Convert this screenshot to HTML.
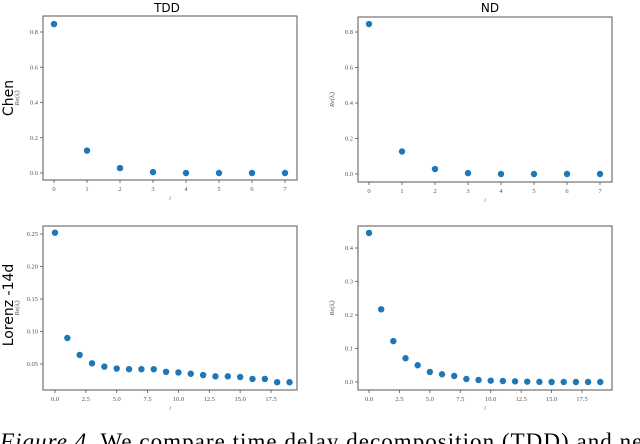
<!DOCTYPE html>
<html><head><meta charset="utf-8"><style>
body{margin:0;background:#fff;width:640px;height:444px;overflow:hidden}
svg{display:block}
</style></head><body>
<svg id="fig" width="640" height="444" xmlns="http://www.w3.org/2000/svg">
<text x="167" y="12" text-anchor="middle" font-family="DejaVu Sans, sans-serif" font-size="12">TDD</text>
<text x="490" y="12" text-anchor="middle" font-family="DejaVu Sans, sans-serif" font-size="12">ND</text>
<text transform="translate(13,98) rotate(-90)" text-anchor="middle" font-family="DejaVu Sans, sans-serif" font-size="14">Chen</text>
<text transform="translate(13,305) rotate(-90)" text-anchor="middle" font-family="DejaVu Sans, sans-serif" font-size="14">Lorenz -14d</text>
<text x="0" y="449" font-family="Liberation Serif, serif" font-size="23" textLength="660" lengthAdjust="spacing"><tspan font-style="italic">Figure 4.</tspan>  We compare time delay decomposition (TDD) and new</text>
</svg>
<script>
const chenIdx=[0,1,2,3,4,5,6,7];
const chenTDD=[0.845,0.127,0.028,0.005,0.0,0.0,0.0,0.0];
const chenND=[0.845,0.127,0.028,0.005,0.0,0.0,0.0,0.0];
const lorIdx=[0,1,2,3,4,5,6,7,8,9,10,11,12,13,14,15,16,17,18,19];
const lorTDD=[0.252,0.090,0.064,0.051,0.046,0.043,0.042,0.042,0.042,0.038,0.037,0.035,0.033,0.031,0.031,0.030,0.027,0.027,0.022,0.022];
const lorND=[0.445,0.217,0.122,0.071,0.050,0.030,0.023,0.018,0.009,0.006,0.004,0.003,0.002,0.001,0.0005,0,0,0,0,0];
const chenXTicks=[0,1,2,3,4,5,6,7];
const chenXLabels=["0","1","2","3","4","5","6","7"];
const chenYTicks=[0,0.2,0.4,0.6,0.8];
const chenYLabels=["0.0","0.2","0.4","0.6","0.8"];
const lorXTicks=[0,2.5,5,7.5,10,12.5,15,17.5];
const lorXLabels=["0.0","2.5","5.0","7.5","10.0","12.5","15.0","17.5"];
const lorTDDYTicks=[0.05,0.10,0.15,0.20,0.25];
const lorTDDYLabels=["0.05","0.10","0.15","0.20","0.25"];
const lorNDYTicks=[0,0.1,0.2,0.3,0.4];
const lorNDYLabels=["0.0","0.1","0.2","0.3","0.4"];

const svg=document.getElementById('fig');
const NS='http://www.w3.org/2000/svg';
function mk(tag,attrs){const e=document.createElementNS(NS,tag);for(const k in attrs)e.setAttribute(k,attrs[k]);svg.appendChild(e);return e;}

function panel(name,box,xd,xr,yd,yr,xs,ys,xt,xl,yt,yl){
  const sx=v=>xr[0]+(v-xd[0])*(xr[1]-xr[0])/(xd[1]-xd[0]);
  const sy=v=>yr[0]+(v-yd[0])*(yr[1]-yr[0])/(yd[1]-yd[0]);
  const r=mk('rect',{x:box[0],y:box[1],width:box[2]-box[0],height:box[3]-box[1],fill:'none',stroke:'#555','stroke-width':1});
  
  
  xt.forEach((v,i)=>{
    const x=sx(v);
    const t=mk('line',{x1:x,x2:x,y1:box[3],y2:box[3]+3,stroke:'#555','stroke-width':0.8});
    
    
    const l=mk('text',{x:x,y:box[3]+11,'text-anchor':'middle','font-family':'Liberation Serif, serif','font-size':6.5,fill:'#555'});
    l.textContent=xl[i];
    
    
  });
  yt.forEach((v,i)=>{
    const y=sy(v);
    const t=mk('line',{x1:box[0]-3,x2:box[0],y1:y,y2:y,stroke:'#555','stroke-width':0.8});
    
    
    const l=mk('text',{x:box[0]-5,y:y+2.2,'text-anchor':'end','font-family':'Liberation Serif, serif','font-size':6.5,fill:'#555'});
    l.textContent=yl[i];
    
    
  });
  const xa=mk('text',{x:(box[0]+box[2])/2,y:box[3]+20,'text-anchor':'middle','font-family':'Liberation Serif, serif','font-style':'italic','font-size':6.5,fill:'#777'});
  xa.textContent='i';
  
  
  const ya=mk('text',{transform:`translate(${box[0]-24},${(box[1]+box[3])/2}) rotate(-90)`,'text-anchor':'middle','font-family':'Liberation Serif, serif','font-style':'italic','font-size':6.5,fill:'#555'});
  ya.textContent='Re(λ̂ᵢ)';
  
  
  xs.forEach((v,i)=>{
    const c=mk('circle',{cx:sx(v),cy:sy(ys[i]),r:3.2,fill:'#1f77b4'});
    
    
  });
}
panel('chen-tdd',[43,16,297,180],[0,7],[54,285],[0,0.8],[173,32],chenIdx,chenTDD,chenXTicks,chenXLabels,chenYTicks,chenYLabels);
panel('chen-nd',[358,17,612,182],[0,7],[369,600],[0,0.8],[174,32],chenIdx,chenND,chenXTicks,chenXLabels,chenYTicks,chenYLabels);
panel('lorenz-tdd',[43,226,297,390],[0,17.5],[55,271],[0.05,0.25],[364,234],lorIdx,lorTDD,lorXTicks,lorXLabels,lorTDDYTicks,lorTDDYLabels);
panel('lorenz-nd',[358,226,612,390],[0,17.5],[369,582],[0,0.4],[382,248],lorIdx,lorND,lorXTicks,lorXLabels,lorNDYTicks,lorNDYLabels);
</script>
</body></html>
